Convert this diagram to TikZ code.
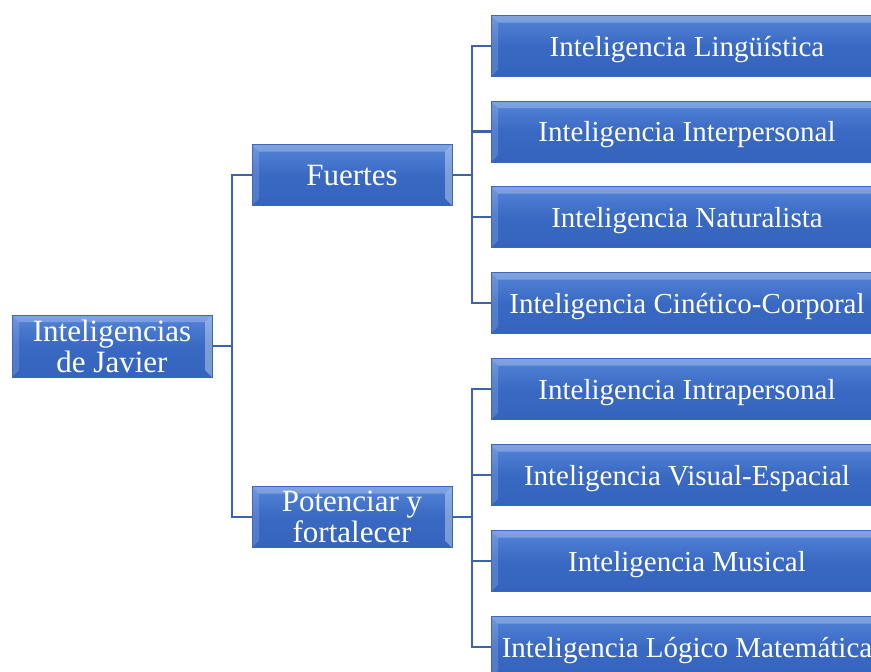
\documentclass[tikz,border=0pt]{standalone}
\usepackage{fontspec}
\setmainfont{Liberation Serif}
\definecolor{boxtop}{HTML}{5585D8}
\definecolor{boxbot}{HTML}{3464BE}
\definecolor{boxedge}{HTML}{3B68BA}
\definecolor{linec}{HTML}{3F63A8}
\tikzset{
  box/.style={rectangle, inner sep=0pt, top color=boxtop, bottom color=boxbot,
    middle color=boxbot!85!boxtop, draw=boxedge, line width=1pt, text=white, align=center,
    path picture={
      \fill[white, opacity=0.25] (path picture bounding box.north west) -- (path picture bounding box.north east)
        -- ([xshift=-7pt,yshift=-7pt]path picture bounding box.north east) -- ([xshift=7pt,yshift=-7pt]path picture bounding box.north west) -- cycle;
      \fill[white, opacity=0.15] (path picture bounding box.north west) -- ([xshift=7pt,yshift=-7pt]path picture bounding box.north west)
        -- ([xshift=7pt,yshift=7pt]path picture bounding box.south west) -- (path picture bounding box.south west) -- cycle;
      \fill[white, opacity=0.35] (path picture bounding box.north east) -- ([xshift=-7pt,yshift=-7pt]path picture bounding box.north east)
        -- ([xshift=-7pt,yshift=7pt]path picture bounding box.south east) -- (path picture bounding box.south east) -- cycle;
    }},
  leaf/.style={box, minimum width=392pt, minimum height=61pt, text depth=0pt,
    font=\fontsize{29}{30}\selectfont},
  mid/.style={box, minimum width=200pt, minimum height=61pt,
    font=\fontsize{31}{31}\selectfont},
  conn/.style={draw=linec, line width=2.8pt}
}
\begin{document}
\begin{tikzpicture}[x=1pt,y=-1pt]
\useasboundingbox (0,0) rectangle (871,672);
\clip (0,0) rectangle (871,672);
\node[mid, minimum height=62pt] (root) at (112,346) {Inteligencias\\de Javier};
\node[mid, text depth=0pt] (fue) at (352,175) {Fuertes};
\node[mid] (pot) at (352,517) {Potenciar y\\fortalecer};
\node[leaf] (a1) at (687,46) {Inteligencia Lingüística};
\node[leaf] (a2) at (687,131.5) {Inteligencia Interpersonal};
\node[leaf] (a3) at (687,217) {Inteligencia Naturalista};
\node[leaf] (a4) at (687,303) {Inteligencia Cinético-Corporal};
\node[leaf] (b1) at (687,389) {Inteligencia Intrapersonal};
\node[leaf] (b2) at (687,475) {Inteligencia Visual-Espacial};
\node[leaf] (b3) at (687,561) {Inteligencia Musical};
\node[leaf] (b4) at (687,647) {Inteligencia Lógico Matemática};
\coordinate (j0) at (232,346);
\coordinate (j1) at (472,175);
\coordinate (j2) at (472,517);
\draw[conn] (root.east) -- (j0);
\draw[conn] (j0) |- (fue.west);
\draw[conn] (j0) |- (pot.west);
\draw[conn] (fue.east) -- (j1);
\foreach \n in {a1,a2,a3,a4} {\draw[conn] (j1) |- (\n.west);}
\draw[conn] (pot.east) -- (j2);
\foreach \n in {b1,b2,b3,b4} {\draw[conn] (j2) |- (\n.west);}
\end{tikzpicture}
\end{document}
